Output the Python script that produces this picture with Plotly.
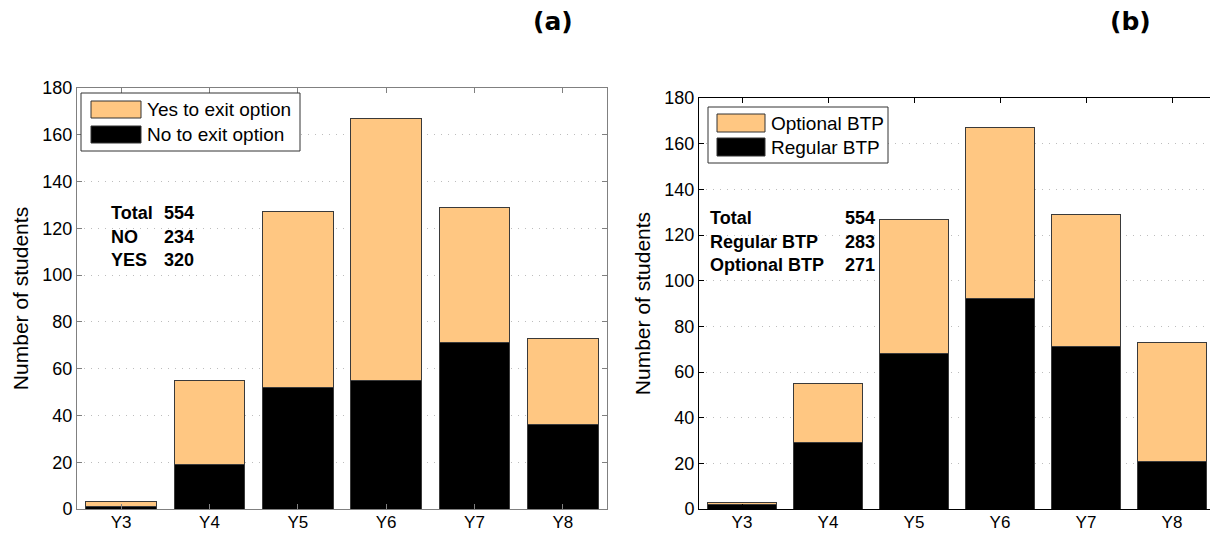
import plotly.graph_objects as go

# The page body has an 8px margin, so the figure is sized to fit the window
OFF = 8
W, H = 1218 - OFF, 533 - OFF

years = ["Y3", "Y4", "Y5", "Y6", "Y7", "Y8"]
no_exit = [1, 19, 52, 55, 71, 36]
yes_exit = [2, 36, 75, 112, 58, 37]
regular_btp = [2, 29, 68, 92, 71, 21]
optional_btp = [1, 26, 59, 75, 58, 52]
y_ticks = [0, 20, 40, 60, 80, 100, 120, 140, 160, 180]

ORANGE = "#FFC782"
BLACK = "#000000"
FONT = "Liberation Sans, Arial, Helvetica, sans-serif"


def px(x):
    return (x - OFF) / W


def py(y):
    return 1 - (y - OFF) / H


fig = go.Figure()
bar_line = dict(color="#3a3a3a", width=1)
fig.add_bar(x=years, y=no_exit, marker=dict(color=BLACK, line=bar_line), name="No to exit option",
            xaxis="x", yaxis="y", showlegend=False)
fig.add_bar(x=years, y=yes_exit, marker=dict(color=ORANGE, line=bar_line), name="Yes to exit option",
            xaxis="x", yaxis="y", showlegend=False)
fig.add_bar(x=years, y=regular_btp, marker=dict(color=BLACK, line=bar_line), name="Regular BTP",
            xaxis="x2", yaxis="y2", showlegend=False)
fig.add_bar(x=years, y=optional_btp, marker=dict(color=ORANGE, line=bar_line), name="Optional BTP",
            xaxis="x2", yaxis="y2", showlegend=False)


def xax(domain, anchor, lc):
    return dict(domain=domain, anchor=anchor, range=[-0.5, 5.5], type="category", automargin=False,
                showline=True, linecolor=lc, linewidth=1, mirror="ticks",
                ticks="inside", ticklen=5, tickcolor=lc, showgrid=False, zeroline=False,
                ticklabelstandoff=-2,
                tickfont=dict(family=FONT, size=17, color="black"))


def yax(domain, anchor, lc):
    return dict(domain=domain, anchor=anchor, range=[0, 180], tickvals=y_ticks, automargin=False,
                showline=True, linecolor=lc, linewidth=1, mirror="ticks",
                ticks="inside", ticklen=5, tickcolor=lc,
                showgrid=True, gridcolor="#bdbdbd", griddash="1px,6px", gridwidth=1, zeroline=False,
                tickfont=dict(family=FONT, size=18, color="black"),
                title=dict(text="Number of students", font=dict(family=FONT, size=21, color="black"),
                           standoff=8))


fig.update_layout(
    width=W, height=H,
    margin=dict(l=0, r=0, t=0, b=0),
    paper_bgcolor="white", plot_bgcolor="white",
    barmode="stack", bargap=0.2,
    xaxis=xax([px(77), px(607)], "y", "#808080"),
    yaxis=yax([py(509), py(88)], "x", "#808080"),
    xaxis2=xax([px(699), px(1215)], "y2", "#000000"),
    yaxis2=yax([py(509), py(98)], "x2", "#000000"),
)

shapes = []
annotations = []


def legend(box, entries):
    x0, y0, x1, y1 = box
    shapes.append(dict(type="rect", xref="paper", yref="paper", x0=px(x0), x1=px(x1), y0=py(y1), y1=py(y0),
                       line=dict(color="#333333", width=1), fillcolor="white", layer="above"))
    for (sx0, sy0, sx1, sy1, color, text) in entries:
        shapes.append(dict(type="rect", xref="paper", yref="paper", x0=px(sx0), x1=px(sx1),
                           y0=py(sy1), y1=py(sy0), line=dict(color="#333333", width=1),
                           fillcolor=color, layer="above"))
        annotations.append(dict(xref="paper", yref="paper", x=px(sx1 + 4), y=py((sy0 + sy1) / 2),
                                text=text, showarrow=False, xanchor="left", yanchor="middle",
                                font=dict(family=FONT, size=19, color="black")))


legend((81, 93, 300, 151), [
    (91, 101, 141, 118, ORANGE, "Yes to exit option"),
    (91, 126, 141, 143, BLACK, "No to exit option"),
])
legend((708, 107, 888, 163), [
    (717, 114, 765, 132, ORANGE, "Optional BTP"),
    (717, 138, 765, 156, BLACK, "Regular BTP"),
])

stats_a = [("Total", "554", 213), ("NO", "234", 237), ("YES", "320", 260)]
for lab, val, yy in stats_a:
    annotations.append(dict(xref="paper", yref="paper", x=px(109), y=py(yy), text="<b>%s</b>" % lab,
                            showarrow=False, xanchor="left", yanchor="middle",
                            font=dict(family=FONT, size=18, color="black")))
    annotations.append(dict(xref="paper", yref="paper", x=px(162), y=py(yy), text="<b>%s</b>" % val,
                            showarrow=False, xanchor="left", yanchor="middle",
                            font=dict(family=FONT, size=18, color="black")))

stats_b = [("Total", "554", 218), ("Regular BTP", "283", 242), ("Optional BTP", "271", 265)]
for lab, val, yy in stats_b:
    annotations.append(dict(xref="paper", yref="paper", x=px(708), y=py(yy), text="<b>%s</b>" % lab,
                            showarrow=False, xanchor="left", yanchor="middle",
                            font=dict(family=FONT, size=18, color="black")))
    annotations.append(dict(xref="paper", yref="paper", x=px(877), y=py(yy), text="<b>%s</b>" % val,
                            showarrow=False, xanchor="right", yanchor="middle",
                            font=dict(family=FONT, size=18, color="black")))

for t, xc in (("(a)", 553), ("(b)", 1130)):
    annotations.append(dict(xref="paper", yref="paper", x=px(xc), y=py(22), text="<b>%s</b>" % t,
                            showarrow=False, xanchor="center", yanchor="middle",
                            font=dict(family="DejaVu Sans", size=25, color="black")))

fig.update_layout(shapes=shapes, annotations=annotations)
fig.write_html("out.html")
